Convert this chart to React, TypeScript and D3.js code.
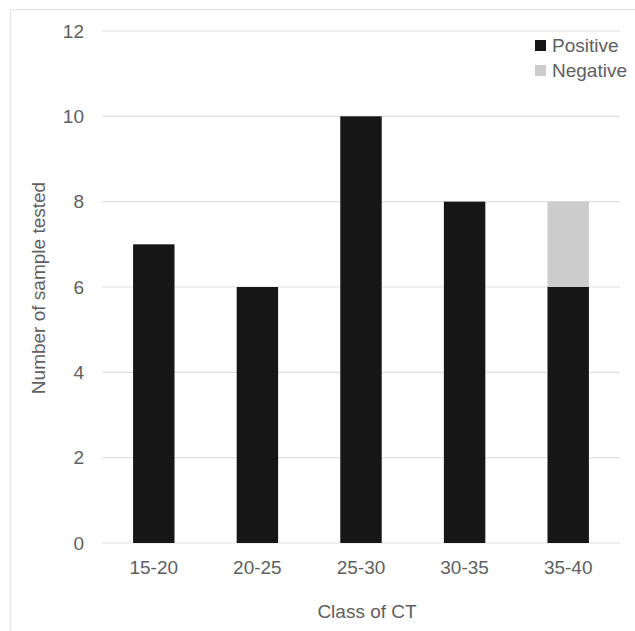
import React from "react";
import * as d3 from "d3";

const categories = ["15-20", "20-25", "25-30", "30-35", "35-40"];
const positive = [7, 6, 10, 8, 6];
const negative = [0, 0, 0, 0, 2];
const yTicks = [0, 2, 4, 6, 8, 10, 12];
const seriesNames = ["Positive", "Negative"];
const seriesColors = ["#161616", "#cbcccb"];

const W = 635;
const H = 631;
const left = 102;
const right = 620;
const top = 31;
const bottom = 543;
const FONT = "'Liberation Sans', Arial, Helvetica, sans-serif";
const TEXT = "#606060";
const FS = 19;

export default function App() {
  const x = d3.scaleBand<string>().domain(categories).range([left, right]).paddingInner(0.6).paddingOuter(0.3);
  const y = d3.scaleLinear().domain([0, 12]).range([bottom, top]);
  const stacked = d3.stack<any>().keys(["pos", "neg"])(
    categories.map((c, i) => ({ cat: c, pos: positive[i], neg: negative[i] }))
  );

  return (
    <svg width={W} height={H} style={{ position: "absolute", left: 0, top: 0 }} fontFamily={FONT}>
      <rect x={0} y={0} width={W} height={H} fill="#fff" />
      <rect x={10.5} y={9.5} width={W + 20} height={H + 20} fill="none" stroke="#e2e2e2" strokeWidth={1} />
      {yTicks.map((t) => (
        <g key={t}>
          <line x1={left} x2={right} y1={y(t)} y2={y(t)} stroke="#e0e0e0" strokeWidth={1.2} />
          <text x={84} y={y(t)} dy="0.35em" textAnchor="end" fontSize={FS} fill={TEXT}>
            {t}
          </text>
        </g>
      ))}
      {stacked.map((s, si) => (
        <g key={si} fill={seriesColors[si]}>
          {s.map((d, i) =>
            d[1] - d[0] > 0 ? (
              <rect key={i} x={x(categories[i])} width={x.bandwidth()} y={y(d[1])} height={y(d[0]) - y(d[1])} />
            ) : null
          )}
        </g>
      ))}
      {categories.map((c) => (
        <text key={c} x={(x(c) as number) + x.bandwidth() / 2} y={574} textAnchor="middle" fontSize={FS} fill={TEXT}>
          {c}
        </text>
      ))}
      <text x={367} y={618} textAnchor="middle" fontSize={FS} fill={TEXT}>
        Class of CT
      </text>
      <text transform={`translate(45,288) rotate(-90)`} textAnchor="middle" fontSize={FS} fill={TEXT}>
        Number of sample tested
      </text>
      {seriesNames.map((n, i) => (
        <g key={n} transform={`translate(535,${40 + i * 25})`}>
          <rect x={0} y={0} width={11} height={11} fill={seriesColors[i]} />
          <text x={17} y={11.5} fontSize={FS} fill={TEXT}>
            {n}
          </text>
        </g>
      ))}
    </svg>
  );
}
